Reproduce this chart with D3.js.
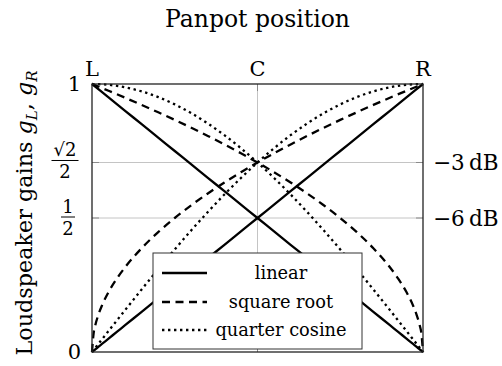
<!DOCTYPE html>
<html>
<head>
<meta charset="utf-8">
<script src="https://cdn.jsdelivr.net/npm/d3@7"></script>
<style>
  html, body { margin: 0; padding: 0; background: #fff; }
  svg { display: block; font-family: "DejaVu Serif", "Liberation Serif", serif; }
</style>
</head>
<body>
<svg id="chart" width="502" height="366"></svg>
<script>
// Pan position (0 = L, 1 = R) and the right-channel gain of each pan law.
// The left channel is the mirror image: gL(p) = gR(1 - p).
const panPos   = [0, 0.005, 0.01, 0.02, 0.03, 0.05, 0.075, 0.1, 0.15, 0.2, 0.25, 0.3, 0.35, 0.4, 0.45, 0.5, 0.55, 0.6, 0.65, 0.7, 0.75, 0.8, 0.85, 0.9, 0.95, 1];
const linearR  = [0, 0.005, 0.01, 0.02, 0.03, 0.05, 0.075, 0.1, 0.15, 0.2, 0.25, 0.3, 0.35, 0.4, 0.45, 0.5, 0.55, 0.6, 0.65, 0.7, 0.75, 0.8, 0.85, 0.9, 0.95, 1];
const sqrtR    = [0, 0.0707, 0.1, 0.1414, 0.1732, 0.2236, 0.2739, 0.3162, 0.3873, 0.4472, 0.5, 0.5477, 0.5916, 0.6325, 0.6708, 0.7071, 0.7416, 0.7746, 0.8062, 0.8367, 0.8660, 0.8944, 0.9220, 0.9487, 0.9747, 1];
const cosineR  = [0, 0.0079, 0.0157, 0.0314, 0.0471, 0.0785, 0.1175, 0.1564, 0.2334, 0.3090, 0.3827, 0.4540, 0.5225, 0.5878, 0.6494, 0.7071, 0.7604, 0.8090, 0.8526, 0.8910, 0.9239, 0.9511, 0.9724, 0.9877, 0.9969, 1];

const seriesNames = ["linear", "square root", "quarter cosine"];
const topTicks    = [0, 0.5, 1];
const topLabels   = ["L", "C", "R"];
const gridGains   = [0.5, Math.SQRT1_2];
const rightLabels = ["\u22126\u2009dB", "\u22123\u2009dB"];

const svg = d3.select("#chart");
const margin = { left: 92, right: 79, top: 84, bottom: 14 };
const W = 502, H = 366;
const x = d3.scaleLinear().domain([0, 1]).range([margin.left, W - margin.right]);
const y = d3.scaleLinear().domain([0, 1]).range([H - margin.bottom, margin.top]);

const styles = [
  { dash: null },
  { dash: "8,5.5" },
  { dash: "2.4,3.6" }
];
const gainSets = [linearR, sqrtR, cosineR];

// grid lines
const grid = svg.append("g");
grid.selectAll("line.v").data([0.5]).join("line")
  .attr("x1", d => x(d)).attr("x2", d => x(d))
  .attr("y1", y(0)).attr("y2", y(1))
  .attr("stroke", "#c4c4c4").attr("stroke-width", 1);
grid.selectAll("line.h").data(gridGains).join("line")
  .attr("x1", x(0)).attr("x2", x(1))
  .attr("y1", d => y(d)).attr("y2", d => y(d))
  .attr("stroke", "#c4c4c4").attr("stroke-width", 1);

// small tick marks on the frame
const ticks = svg.append("g").attr("stroke", "#8a8a8a").attr("stroke-width", 1);
gridGains.forEach(g => {
  ticks.append("line").attr("x1", x(0)).attr("x2", x(0) + 7).attr("y1", y(g)).attr("y2", y(g));
  ticks.append("line").attr("x1", x(1) - 7).attr("x2", x(1)).attr("y1", y(g)).attr("y2", y(g));
});
ticks.append("line").attr("x1", x(0.5)).attr("x2", x(0.5)).attr("y1", y(1)).attr("y2", y(1) + 7);
ticks.append("line").attr("x1", x(0.5)).attr("x2", x(0.5)).attr("y1", y(0)).attr("y2", y(0) - 7);

// curves
const line = d3.line().x(d => x(d[0])).y(d => y(d[1])).curve(d3.curveMonotoneX);
const curves = svg.append("g").attr("fill", "none").attr("stroke", "#000").attr("stroke-width", 2.3);
gainSets.forEach((gains, i) => {
  const right = panPos.map((p, k) => [p, gains[k]]);
  const left = panPos.map((p, k) => [1 - p, gains[k]]).sort((a, b) => a[0] - b[0]);
  [left, right].forEach(pts => {
    curves.append("path").attr("d", line(pts))
      .attr("stroke-dasharray", styles[i].dash);
  });
});

// frame
svg.append("rect")
  .attr("x", x(0)).attr("y", y(1))
  .attr("width", x(1) - x(0)).attr("height", y(0) - y(1))
  .attr("fill", "none").attr("stroke", "#222").attr("stroke-width", 1.3);

// title
svg.append("text").attr("x", x(0.5)).attr("y", 27)
  .attr("text-anchor", "middle").attr("font-size", 23.5).text("Panpot position");

// top labels L C R
svg.selectAll("text.top").data(topTicks).join("text")
  .attr("x", d => x(d)).attr("y", 76)
  .attr("text-anchor", "middle").attr("font-size", 21)
  .text((d, i) => topLabels[i]);

// left labels: 0, 1 and fractions
const leftG = svg.append("g").attr("font-size", 21);
[0, 1].forEach(v => {
  leftG.append("text").attr("x", 81).attr("y", y(v) + 7)
    .attr("text-anchor", "end").text(v);
});
function fraction(cx, cy, num, den, barW) {
  const g = svg.append("g").attr("font-size", 18).attr("text-anchor", "middle");
  g.append("text").attr("x", cx).attr("y", cy - 4).text(num);
  g.append("line").attr("x1", cx - barW / 2).attr("x2", cx + barW / 2)
    .attr("y1", cy).attr("y2", cy).attr("stroke", "#000").attr("stroke-width", 1);
  g.append("text").attr("x", cx).attr("y", cy + 18).text(den);
}
fraction(65, y(Math.SQRT1_2) - 2, "\u221A2", "2", 27);
fraction(68, y(0.5) - 1, "1", "2", 14);

// right dB labels
svg.selectAll("text.db").data(gridGains).join("text")
  .attr("x", 433).attr("y", d => y(d) + 8)
  .attr("font-size", 21.5).text((d, i) => rightLabels[i]);

// y axis title
const yt = svg.append("text")
  .attr("transform", `translate(32,213) rotate(-90)`)
  .attr("text-anchor", "middle").attr("font-size", 22.3);
yt.append("tspan").text("Loudspeaker gains ");
yt.append("tspan").attr("font-style", "italic").text("g");
yt.append("tspan").attr("font-style", "italic").attr("font-size", 15).attr("dy", 5).text("L");
yt.append("tspan").attr("dy", -5).text(", ");
yt.append("tspan").attr("font-style", "italic").text("g");
yt.append("tspan").attr("font-style", "italic").attr("font-size", 15).attr("dy", 5).text("R");

// legend
const lg = svg.append("g");
lg.append("rect").attr("x", 153).attr("y", 253).attr("width", 209).attr("height", 96)
  .attr("fill", "#fff").attr("stroke", "#333").attr("stroke-width", 1);
const rowY = [273, 302, 330];
seriesNames.forEach((name, i) => {
  lg.append("line").attr("x1", 162).attr("x2", 207).attr("y1", rowY[i]).attr("y2", rowY[i])
    .attr("stroke", "#000").attr("stroke-width", 2.3)
    .attr("stroke-dasharray", styles[i].dash);
  lg.append("text").attr("x", 281).attr("y", rowY[i] + 6)
    .attr("text-anchor", "middle").attr("font-size", 17.8).text(name);
});
</script>
</body>
</html>
